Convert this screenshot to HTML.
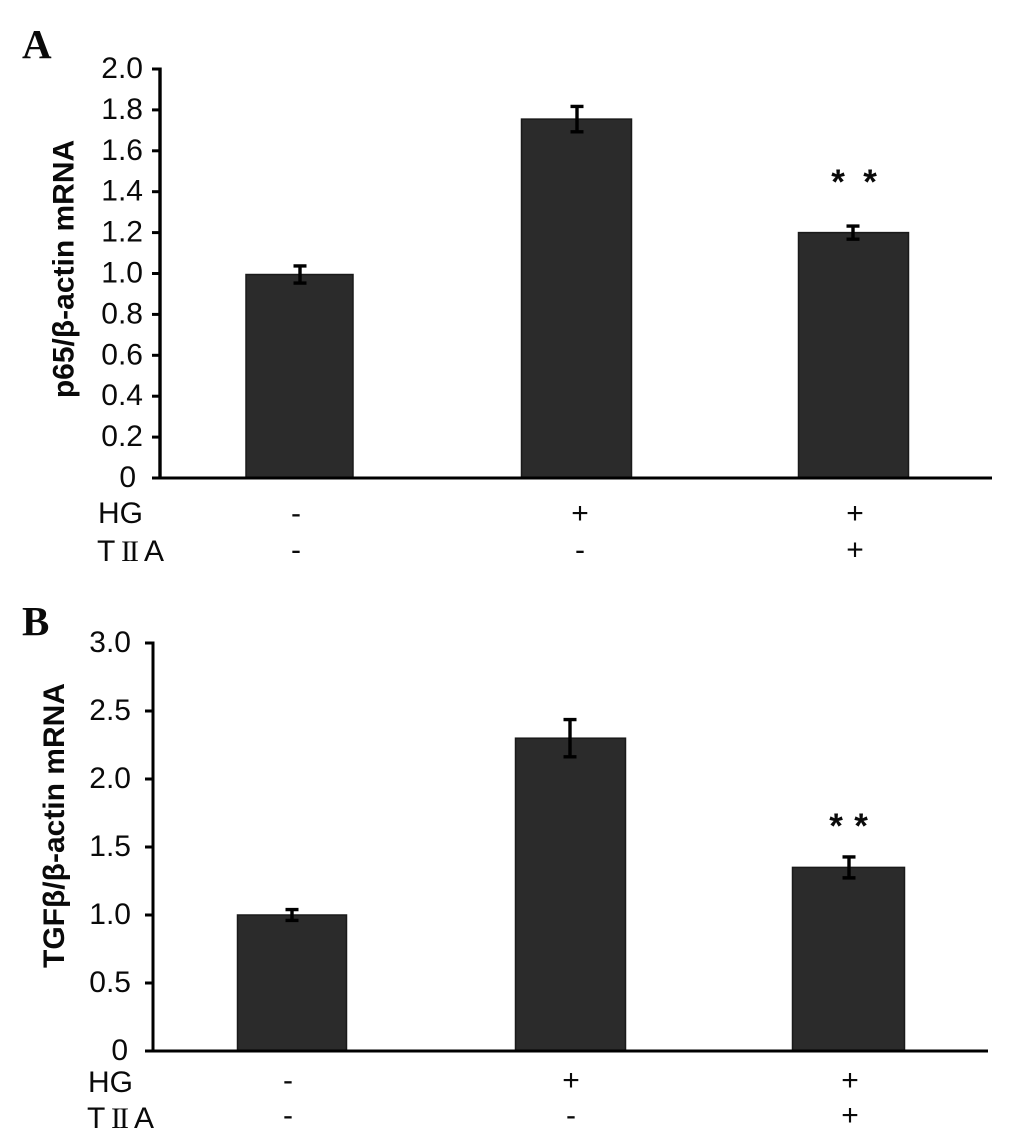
<!DOCTYPE html>
<html lang="en">
<head>
<meta charset="utf-8">
<title>p65 and TGFβ mRNA bar charts</title>
<style>
html,body{margin:0;padding:0;background:#fff;width:1033px;height:1142px;overflow:hidden}
svg{display:block}
text{font-family:"Liberation Sans",sans-serif;fill:#0a0a0a}
</style>
</head>
<body>
<svg id="chart" xmlns="http://www.w3.org/2000/svg" width="1033" height="1142" viewBox="0 0 1033 1142"></svg>
<script>
var categories = ['control', 'hg', 'hg-tiia'];
var hgRow = ['-', '+', '+'];
var tiiaRow = ['-', '-', '+'];

var p65Values = [0.995, 1.755, 1.2];
var p65Errors = [0.042, 0.062, 0.032];
var p65Ticks = [0, 0.2, 0.4, 0.6, 0.8, 1.0, 1.2, 1.4, 1.6, 1.8, 2.0];
var p65TickLabels = ['0', '0.2', '0.4', '0.6', '0.8', '1.0', '1.2', '1.4', '1.6', '1.8', '2.0'];

var tgfValues = [1.0, 2.3, 1.35];
var tgfErrors = [0.04, 0.137, 0.077];
var tgfTicks = [0, 0.5, 1.0, 1.5, 2.0, 2.5, 3.0];
var tgfTickLabels = ['0', '0.5', '1.0', '1.5', '2.0', '2.5', '3.0'];

var svg = document.getElementById('chart');
var NS = 'http://www.w3.org/2000/svg';

function mk(tag, attrs, parent, content) {
  var el = document.createElementNS(NS, tag);
  for (var k in attrs) { el.setAttribute(k, attrs[k]); }
  if (content !== undefined) { el.textContent = content; }
  (parent || svg).appendChild(el);
  return el;
}

function drawPanel(p) {
  var g = mk('g', {});
  
  

  function yScale(v) { return p.zeroY - (v / p.maxV) * (p.zeroY - p.topY); }

  var letter = mk('text', {x: 22, y: p.letterY, 'font-size': 41, 'font-weight': 'bold', style: 'font-family:"Liberation Serif",serif'}, g, p.letter);
  
  

  p.values.forEach(function (v, i) {
    var cx = p.centers[i];
    var top = yScale(v);
    var bar = mk('rect', {x: cx - p.barW[i] / 2 + p.barShift[i], y: top, width: p.barW[i], height: p.zeroY - top, fill: '#2b2b2b', stroke: '#1a1a1a', 'stroke-width': 1.5}, g);
    
    

    var eTop = yScale(v + p.errors[i]);
    var eBot = yScale(v - p.errors[i]);
    var err = mk('path', {d: 'M' + (cx - 6.5) + ' ' + eTop + 'H' + (cx + 6.5) + 'M' + cx + ' ' + eTop + 'V' + eBot + 'M' + (cx - 6.5) + ' ' + eBot + 'H' + (cx + 6.5), fill: 'none', stroke: '#000', 'stroke-width': 3.4}, g);
    
    
  });

  var yAxis = mk('line', {x1: p.axisX, y1: p.topY - 1.5, x2: p.axisX, y2: p.zeroY, stroke: '#000', 'stroke-width': p.axisW}, g);
  
  

  var xAxis = mk('line', {x1: p.axisX - 8, y1: p.zeroY, x2: p.axisEnd, y2: p.zeroY, stroke: '#000', 'stroke-width': 3}, g);
  
  

  p.ticks.forEach(function (t, i) {
    var y = yScale(t);
    var tick = mk('line', {x1: p.axisX - 8, y1: y, x2: p.axisX, y2: y, stroke: '#000', 'stroke-width': 3}, g);
    
    

    var shift = t === 0 ? p.zeroShift : 0;
    var label = mk('text', {x: p.axisX - p.labelGap + shift, y: y + 9, 'text-anchor': 'end', 'font-size': 30}, g, p.tickLabels[i]);
    
    
  });

  var title = mk('text', {transform: 'translate(' + p.titleX + ' ' + p.titleY + ') rotate(-90)', 'text-anchor': 'middle', 'font-size': p.titleSize, 'font-weight': 'bold'}, g, p.title);
  
  

  var hgLabel = mk('text', {x: p.rowX, y: p.row1Y + 9, 'font-size': 30}, g, 'HG');
  
  

  var tiiaLabel = mk('text', {x: p.rowX - 1, y: p.row2Y + 9, 'font-size': 30}, g);
  
  
  mk('tspan', {}, tiiaLabel, 'T');
  mk('tspan', {x: p.rowX + 23, 'font-size': 30, 'letter-spacing': -2, style: 'font-family:"Liberation Serif",serif'}, tiiaLabel, 'II');
  mk('tspan', {x: p.rowX + 46}, tiiaLabel, 'A');

  categories.forEach(function (c, i) {
    var a = mk('text', {x: p.signX[i], y: p.row1Y + 9 + p.sign1Dy, 'text-anchor': 'middle', 'font-size': 30}, g, hgRow[i]);
    
    

    var b = mk('text', {x: p.signX[i], y: p.row2Y + 9 + p.sign2Dy, 'text-anchor': 'middle', 'font-size': 30}, g, tiiaRow[i]);
    
    
  });

  p.starX.forEach(function (x) {
    var s = mk('text', {x: x, y: p.starY, 'text-anchor': 'middle', 'font-size': 35, 'font-weight': 'bold'}, g, '*');
    
    
  });
}

drawPanel({
  id: 'a', letter: 'A', letterY: 58, maxV: 2, topY: 69, zeroY: 478, axisX: 160, axisEnd: 992, axisW: 3.4,
  centers: [300, 577, 853], barW: [107, 110, 110], barShift: [-0.5, -0.5, 0.5],
  values: p65Values, errors: p65Errors, ticks: p65Ticks, tickLabels: p65TickLabels,
  labelGap: 17, zeroShift: -7,
  title: 'p65/β-actin mRNA', titleX: 73.5, titleY: 269, titleSize: 30,
  rowX: 98, row1Y: 514, row2Y: 552, sign1Dy: 0, sign2Dy: -1.5,
  signX: [296, 580, 855], starX: [838, 870], starY: 194
});

drawPanel({
  id: 'b', letter: 'B', letterY: 635, maxV: 3, topY: 643, zeroY: 1051, axisX: 153, axisEnd: 988, axisW: 3,
  centers: [292, 570, 849], barW: [109, 110, 112], barShift: [0, 0.5, -0.5],
  values: tgfValues, errors: tgfErrors, ticks: tgfTicks, tickLabels: tgfTickLabels,
  labelGap: 22, zeroShift: -3,
  title: 'TGFβ/β-actin mRNA', titleX: 64, titleY: 825.5, titleSize: 30,
  rowX: 88, row1Y: 1083, row2Y: 1119, sign1Dy: -2, sign2Dy: -3,
  signX: [288, 571, 850], starX: [836, 861], starY: 838
});
</script>
</body>
</html>
